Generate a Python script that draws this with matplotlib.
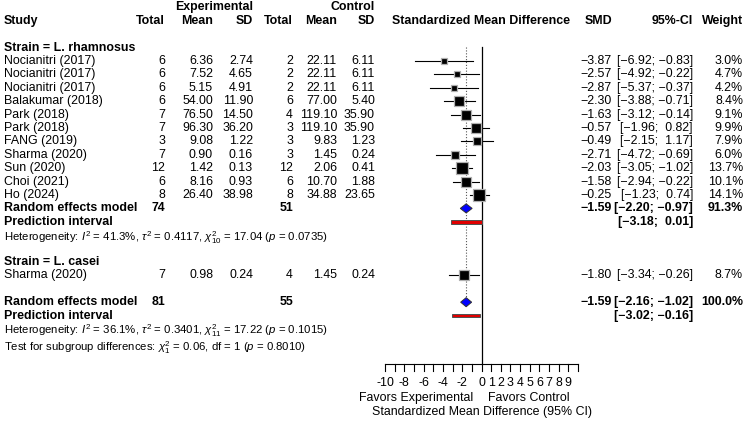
import numpy as np
import matplotlib
matplotlib.use("Agg")
import matplotlib.pyplot as plt

plt.rcParams['font.family'] = ['Liberation Sans', 'DejaVu Sans']
plt.rcParams['mathtext.fontset'] = 'custom'
plt.rcParams['mathtext.rm'] = 'Liberation Sans'
plt.rcParams['mathtext.it'] = 'Liberation Sans:italic'
plt.rcParams['mathtext.bf'] = 'Liberation Sans:bold'

# ---- data ----
studies = ["Nocianitri (2017)", "Nocianitri (2017)", "Nocianitri (2017)", "Balakumar (2018)",
           "Park (2018)", "Park (2018)", "FANG (2019)", "Sharma (2020)", "Sun (2020)",
           "Choi (2021)", "Ho (2024)", "Sharma (2020)"]
strain = ["L. rhamnosus"] * 11 + ["L. casei"]
exp_n = [6, 6, 6, 6, 7, 7, 3, 7, 12, 6, 8, 7]
exp_mean = [6.36, 7.52, 5.15, 54.00, 76.50, 96.30, 9.08, 0.90, 1.42, 8.16, 26.40, 0.98]
exp_sd = [2.74, 4.65, 4.91, 11.90, 14.50, 36.20, 1.22, 0.16, 0.13, 0.93, 38.98, 0.24]
ctl_n = [2, 2, 2, 6, 4, 3, 3, 3, 12, 6, 8, 4]
ctl_mean = [22.11, 22.11, 22.11, 77.00, 119.10, 119.10, 9.83, 1.45, 2.06, 10.70, 34.88, 1.45]
ctl_sd = [6.11, 6.11, 6.11, 5.40, 35.90, 35.90, 1.23, 0.24, 0.41, 1.88, 23.65, 0.24]
smd = [-3.87, -2.57, -2.87, -2.30, -1.63, -0.57, -0.49, -2.71, -2.03, -1.58, -0.25, -1.80]
ci_lo = [-6.92, -4.92, -5.37, -3.88, -3.12, -1.96, -2.15, -4.72, -3.05, -2.94, -1.23, -3.34]
ci_hi = [-0.83, -0.22, -0.37, -0.71, -0.14, 0.82, 1.17, -0.69, -1.02, -0.22, 0.74, -0.26]
weight = [3.0, 4.7, 4.2, 8.4, 9.1, 9.9, 7.9, 6.0, 13.7, 10.1, 14.1, 8.7]

# random effects summaries: subgroup L. rhamnosus and overall
re_sub = (-1.59, -2.20, -0.97, 91.3)
pi_sub = (-3.18, 0.01)
tot_sub = (74, 51)
het_sub = r"Heterogeneity: $I^2$ = 41.3%, $\tau^2$ = 0.4117, $\chi^2_{10}$ = 17.04 ($p$ = 0.0735)"

re_all = (-1.59, -2.16, -1.02, 100.0)
pi_all = (-3.02, -0.16)
tot_all = (81, 55)
het_all = r"Heterogeneity: $I^2$ = 36.1%, $\tau^2$ = 0.3401, $\chi^2_{11}$ = 17.22 ($p$ = 0.1015)"
test_sub = r"Test for subgroup differences: $\chi^2_1$ = 0.06, df = 1 ($p$ = 0.8010)"

tick_pos = list(range(-10, 11))
tick_labels = {-10: "-10", -8: "-8", -6: "-6", -4: "-4", -2: "-2", 0: "0", 1: "1", 2: "2",
               3: "3", 4: "4", 5: "5", 6: "6", 7: "7", 8: "8", 9: "9"}


def num(v):
    return f"{v:.2f}".replace("-", "\u2212")


def ci(lo, hi):
    return "[" + f"{lo:5.2f}".replace("-", "\u2212") + "; " + f"{hi:5.2f}".replace("-", "\u2212") + "]"


# ---- layout ----
W, H = 747, 426
y0, rh = 7.4, 13.4
ylim = ((H - y0) / rh, -y0 / rh)
fs = 8.9
fs_small = 8.2

fig = plt.figure(figsize=(W / 100, H / 100), dpi=100)
tax = fig.add_axes([0, 0, 1, 1])
tax.set_xlim(0, W)
tax.set_ylim(*ylim)
tax.axis('off')

x_lo, x_hi = 385.0, 578.0
fax = fig.add_axes([x_lo / W, 0, (x_hi - x_lo) / W, 1])
fax.set_xlim(-10, 10)
fax.set_ylim(*ylim)
fax.axis('off')
fax.patch.set_alpha(0)

col = dict(exp_n=165, exp_mean=213, exp_sd=253, ctl_n=293, ctl_mean=337, ctl_sd=375,
           smd=612, ci=693, w=743)


def txt(x, y, s, ha='right', bold=False, size=fs):
    tax.text(x, y, s, ha=ha, va='center', fontsize=size,
             fontweight='bold' if bold else 'normal')


# headers
txt(253, -0.05, "Experimental", bold=True)
txt(375, -0.05, "Control", bold=True)
hr = 1.05
txt(4, hr, "Study", ha='left', bold=True)
for k, lab in [('exp_n', 'Total'), ('exp_mean', 'Mean'), ('exp_sd', 'SD'),
               ('ctl_n', 'Total'), ('ctl_mean', 'Mean'), ('ctl_sd', 'SD'),
               ('smd', 'SMD'), ('ci', '95%-CI'), ('w', 'Weight')]:
    txt(col[k], hr, lab, bold=True)
txt(481.5, hr, "Standardized Mean Difference", ha='center', bold=True)


def study_row(i, r):
    txt(4, r, studies[i], ha='left')
    txt(col['exp_n'], r, str(exp_n[i]))
    txt(col['exp_mean'], r, f"{exp_mean[i]:.2f}")
    txt(col['exp_sd'], r, f"{exp_sd[i]:.2f}")
    txt(col['ctl_n'], r, str(ctl_n[i]))
    txt(col['ctl_mean'], r, f"{ctl_mean[i]:.2f}")
    txt(col['ctl_sd'], r, f"{ctl_sd[i]:.2f}")
    txt(col['smd'], r, num(smd[i]))
    txt(col['ci'], r, ci(ci_lo[i], ci_hi[i]))
    txt(col['w'], r, f"{weight[i]:.1f}%")
    fax.plot([ci_lo[i], ci_hi[i]], [r, r], color='black', lw=0.8, zorder=2)
    ms = 3.15 * np.sqrt(weight[i]) * 0.72
    fax.plot(smd[i], r, marker='s', ms=ms, mfc='black', mec='#b0b0b0', mew=0.9, zorder=3)


def summary_rows(r, re, pi, tot):
    txt(4, r, "Random effects model", ha='left', bold=True)
    txt(col['exp_n'], r, str(tot[0]), bold=True)
    txt(col['ctl_n'], r, str(tot[1]), bold=True)
    txt(col['smd'], r, num(re[0]), bold=True)
    txt(col['ci'], r, ci(re[1], re[2]), bold=True)
    txt(col['w'], r, f"{re[3]:.1f}%", bold=True)
    dh = 0.34
    fax.fill([re[1], re[0], re[2], re[0]], [r, r - dh, r, r + dh],
             facecolor='#0000ff', edgecolor='#303030', lw=0.7, zorder=3)
    r2 = r + 1
    txt(4, r2, "Prediction interval", ha='left', bold=True)
    txt(col['ci'], r2, ci(pi[0], pi[1]), bold=True)
    bh = 0.14
    fax.fill([pi[0], pi[1], pi[1], pi[0]], [r2 - bh, r2 - bh, r2 + bh, r2 + bh],
             facecolor='#e00000', edgecolor='#505050', lw=0.7, zorder=3)


# subgroup L. rhamnosus
r = 3
txt(4, r, "Strain = L. rhamnosus", ha='left', bold=True)
idx = [i for i, s in enumerate(strain) if s == "L. rhamnosus"]
for i in idx:
    r += 1
    study_row(i, r)
r += 1
summary_rows(r, re_sub, pi_sub, tot_sub)
txt(4, r + 2.2, het_sub, ha='left', size=fs_small)

# subgroup L. casei
r += 4
txt(4, r, "Strain = L. casei", ha='left', bold=True)
idx = [i for i, s in enumerate(strain) if s == "L. casei"]
for i in idx:
    r += 1
    study_row(i, r)

# overall
r += 2
r_all = r
summary_rows(r, re_all, pi_all, tot_all)
txt(4, r + 2.15, het_all, ha='left', size=fs_small)
txt(4, r + 3.4, test_sub, ha='left', size=fs_small)

# reference lines
ax_row = 26.6
fax.plot([0, 0], [2.95, ax_row], color='black', lw=0.9, zorder=1)
fax.plot([re_all[0], re_all[0]], [2.95, r_all], color='#555555', lw=0.8,
         ls=(0, (1, 1.6)), zorder=1)

# x axis
fax.plot([-10, 10], [ax_row, ax_row], color='black', lw=0.8, clip_on=False)
for t in tick_pos:
    fax.plot([t, t], [ax_row, ax_row + 0.5], color='black', lw=0.8, clip_on=False)
    if t in tick_labels:
        fax.text(t, 28.0, tick_labels[t], ha='center', va='center', fontsize=fs)

txt(473, 29.15, "Favors Experimental", ha='right')
txt(488, 29.15, "Favors Control", ha='left')
txt(482.5, 30.2, "Standardized Mean Difference (95% CI)", ha='center')

fig.savefig("out.png", dpi=100)
